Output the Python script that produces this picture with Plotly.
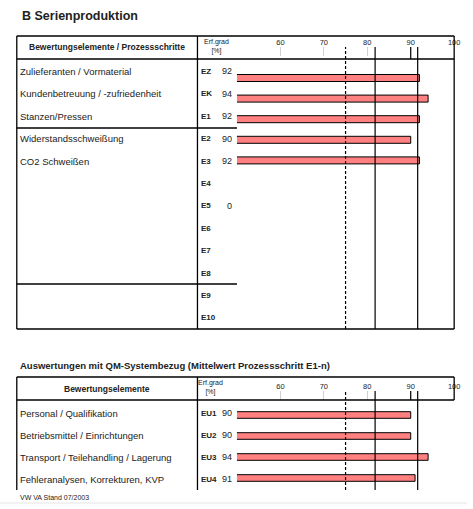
import plotly.graph_objects as go

W, H = 473, 509

# ---------------- data ----------------
title_main = "B Serienproduktion"
title_qm = "Auswertungen mit QM-Systembezug (Mittelwert Prozessschritt E1-n)"
header_top = "Bewertungselemente / Prozessschritte"
header_qm = "Bewertungselemente"
header_value = "Erf.grad<br>[%]"
footer_text = "VW VA Stand 07/2003"

top_labels = ["Zulieferanten / Vormaterial", "Kundenbetreuung / -zufriedenheit",
              "Stanzen/Pressen", "Widerstandsschweißung", "CO2 Schweißen",
              "", "", "", "", "", "", ""]
top_codes = ["EZ", "EK", "E1", "E2", "E3", "E4", "E5", "E6", "E7", "E8", "E9", "E10"]
top_values = [92, 94, 92, 90, 92, None, 0, None, None, None, None, None]

qm_labels = ["Personal / Qualifikation", "Betriebsmittel / Einrichtungen",
             "Transport / Teilehandling / Lagerung", "Fehleranalysen, Korrekturen, KVP"]
qm_codes = ["EU1", "EU2", "EU3", "EU4"]
qm_values = [90, 90, 94, 91]

tick_values = [60, 70, 80, 90, 100]
x_range = [50, 100]
dashed_lines = [75]
solid_lines = [81.8, 91.6]
marker_tick = [90]

# ---------------- layout helpers (pixel -> paper) ----------------
def PX(x):
    return x / W

def PY(y):
    return 1 - y / H

FONT = "Liberation Sans, Arial, sans-serif"
TXT = "#222"
BAR = "#FF8080"

L, C1, C2, R = 17, 200, 240, 460

# top section geometry
T_TOP, T_HEAD, T_BOT = 36, 59, 329
T_DOM_TOP = 47
T_ROW0, T_ROWSTEP = 71.5, 22.4
T_BAR0, T_BARSTEP = 78, 20.6
# bottom section geometry
B_TOP, B_HEAD, B_BOT = 377, 400, 490
B_DOM_TOP = 391
B_ROW0, B_ROWSTEP = 413, 22.0
B_BAR0, B_BARSTEP = 415, 21.0

fig = go.Figure()

fig.add_trace(go.Bar(
    x=top_values, y=list(range(len(top_codes))), orientation="h",
    width=7 / T_BARSTEP, marker=dict(color=BAR, line=dict(color="#000", width=1)),
    xaxis="x", yaxis="y", hoverinfo="skip", showlegend=False))

fig.add_trace(go.Bar(
    x=qm_values, y=list(range(len(qm_codes))), orientation="h",
    width=6.6 / B_BARSTEP, marker=dict(color=BAR, line=dict(color="#000", width=1)),
    xaxis="x2", yaxis="y2", hoverinfo="skip", showlegend=False))

xcommon = dict(range=x_range, domain=[PX(C2), PX(R)], side="top",
               tickvals=tick_values, ticktext=[str(v) for v in tick_values],
               ticks="inside", ticklen=9, tickcolor="#d0d0d0", tickwidth=1,
               tickfont=dict(family=FONT, size=7.5, color=TXT),
               showgrid=False, zeroline=False, showline=False, fixedrange=True)

fig.update_layout(
    width=W, height=H, margin=dict(l=0, r=0, t=0, b=0),
    paper_bgcolor="white", plot_bgcolor="rgba(0,0,0,0)",
    bargap=0, showlegend=False,
    xaxis=dict(anchor="y", **xcommon),
    yaxis=dict(domain=[PY(T_BOT), PY(T_DOM_TOP)],
               range=[(T_BOT - T_BAR0) / T_BARSTEP, (T_DOM_TOP - T_BAR0) / T_BARSTEP],
               showticklabels=False, showgrid=False, zeroline=False, ticks="", fixedrange=True),
    xaxis2=dict(anchor="y2", **xcommon),
    yaxis2=dict(domain=[PY(B_BOT), PY(B_DOM_TOP)],
                range=[(B_BOT - B_BAR0) / B_BARSTEP, (B_DOM_TOP - B_BAR0) / B_BARSTEP],
                showticklabels=False, showgrid=False, zeroline=False, ticks="", fixedrange=True),
)

shapes = []

def hline(y, x0, x1, w=1.3, color="#000"):
    shapes.append(dict(type="line", xref="paper", yref="paper",
                       x0=PX(x0), x1=PX(x1), y0=PY(y), y1=PY(y),
                       line=dict(color=color, width=w)))

def vline(x, y0, y1, w=1.3, color="#000"):
    shapes.append(dict(type="line", xref="paper", yref="paper",
                       x0=PX(x), x1=PX(x), y0=PY(y0), y1=PY(y1),
                       line=dict(color=color, width=w)))

# faint page edge (bottom)
hline(503, 0, W, w=1, color="#e4e4e4")

# top table
hline(T_TOP, L, R)
hline(T_HEAD, L, R)
hline(T_BOT, L, R)
vline(L, T_TOP, T_BOT)
vline(C1, T_TOP, T_BOT)
vline(R, T_TOP, T_BOT)
hline(128, L, C2)
hline(284, L, C2)

# bottom table
hline(B_TOP, L, R)
hline(B_HEAD, L, R)
vline(L, B_TOP, B_BOT)
vline(C1, B_TOP, B_BOT)
vline(R, B_TOP, B_HEAD)

# reference lines in data coordinates
for xa, ya, head_frac in (("x", "y", (T_HEAD - T_DOM_TOP) / (T_BOT - T_DOM_TOP)),
                          ("x2", "y2", (B_HEAD - B_DOM_TOP) / (B_BOT - B_DOM_TOP))):
    for v in dashed_lines:
        shapes.append(dict(type="line", xref=xa, yref=ya + " domain", x0=v, x1=v, y0=0, y1=1,
                           line=dict(color="#000", width=1.2, dash="3px,2px")))
    for v in solid_lines:
        shapes.append(dict(type="line", xref=xa, yref=ya + " domain", x0=v, x1=v, y0=0, y1=1,
                           line=dict(color="#000", width=1.2)))
    for v in marker_tick:
        shapes.append(dict(type="line", xref=xa, yref=ya + " domain", x0=v, x1=v,
                           y0=1 - head_frac, y1=1, line=dict(color="#000", width=1.2)))

fig.update_layout(shapes=shapes)

ann = []

def text(x, y, s, size=9, bold=False, xanchor="left", color=TXT):
    ann.append(dict(x=PX(x), y=PY(y), xref="paper", yref="paper", text=("<b>%s</b>" % s) if bold else s,
                    showarrow=False, xanchor=xanchor, yanchor="middle", borderpad=0,
                    font=dict(family=FONT, size=size, color=color)))

text(21, 16, title_main, size=12.5, bold=True)
text(108, 47.5, header_top, size=8.5, bold=True, xanchor="center")
text(219, 46, header_value, size=7, xanchor="center")

for i, (lab, code, v) in enumerate(zip(top_labels, top_codes, top_values)):
    y = T_ROW0 + T_ROWSTEP * i
    if lab:
        text(19, y, lab, size=9.5)
    text(202.5, y, code, size=8, bold=True)
    if v is not None:
        text(236, y, str(v), size=9, xanchor="right")

text(19, 365, title_qm, size=9.5, bold=True)
text(108, 388.5, header_qm, size=8.5, bold=True, xanchor="center")
text(213, 387, header_value, size=7, xanchor="center")

for i, (lab, code, v) in enumerate(zip(qm_labels, qm_codes, qm_values)):
    y = B_ROW0 + B_ROWSTEP * i
    text(19, y, lab, size=9.5)
    text(202.5, y, code, size=8, bold=True)
    text(236, y, str(v), size=9, xanchor="right")

text(19, 497, footer_text, size=7)

fig.update_layout(annotations=ann)

fig.write_html("out.html", config={"displayModeBar": False, "staticPlot": True},
               post_script="document.body.style.margin='0';document.body.style.overflow='hidden';")
